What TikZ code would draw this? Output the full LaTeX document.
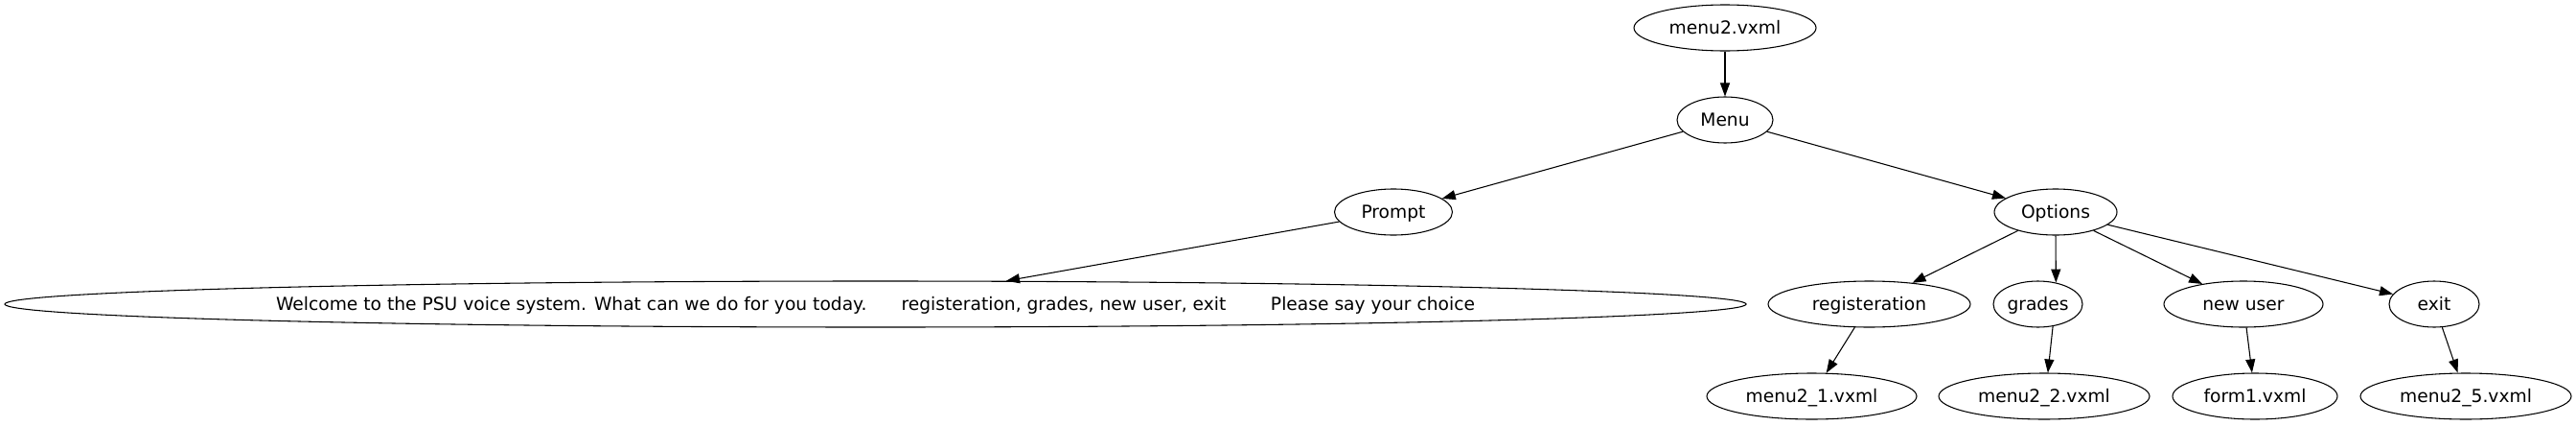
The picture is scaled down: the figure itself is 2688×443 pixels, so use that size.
\documentclass[tikz,border=0pt]{standalone}
\usepackage{fontspec}
\setmainfont{DejaVu Sans}
\usetikzlibrary{shapes.geometric,arrows.meta}
\begin{document}
\begin{tikzpicture}[x=0.75pt,y=-0.75pt,
  gnode/.style={draw,ellipse,inner sep=0pt,line width=0.8pt,minimum height=36pt,
    text height=10pt,text depth=1pt,font=\fontsize{14pt}{16pt}\selectfont},
  edge/.style={line width=0.8pt,-{Triangle[length=10.5pt,width=7.5pt]}}]
\useasboundingbox (0,0) rectangle (2688,443);
\node[gnode,minimum width=142.5pt] (m2) at (1800,29) {menu2.vxml};
\node[gnode,minimum width=75pt] (menu) at (1800,125) {Menu};
\node[gnode,minimum width=92.25pt] (prompt) at (1454,221) {Prompt};
\node[gnode,minimum width=96pt] (options) at (2145,221) {Options};
\node[gnode,minimum width=1362.75pt] (welcome) at (913.5,317) {Welcome to the PSU voice system. What can we do for you today.\hspace{27pt}registeration, grades, new user, exit\hspace{35pt}Please say your choice};
\node[gnode,minimum width=158.25pt] (reg) at (1950.5,317) {registeration};
\node[gnode,minimum width=69.75pt] (grades) at (2126.5,317) {grades};
\node[gnode,minimum width=124.5pt] (newuser) at (2341,317) {new user};
\node[gnode,minimum width=70.5pt] (exit) at (2540,317) {exit};
\node[gnode,minimum width=164.25pt] (m21) at (1890.5,413) {menu2\_1.vxml};
\node[gnode,minimum width=165pt] (m22) at (2133,413) {menu2\_2.vxml};
\node[gnode,minimum width=129pt] (form1) at (2353,413) {form1.vxml};
\node[gnode,minimum width=165pt] (m25) at (2573,413) {menu2\_5.vxml};
\draw[edge] (m2) -- (menu);
\draw[edge] (menu) -- (prompt);
\draw[edge] (menu) -- (options);
\draw[edge] (prompt) -- (welcome);
\draw[edge] (options) -- (reg);
\draw[edge] (options.south) -- (grades.50);
\draw[edge] (options) -- (newuser);
\draw[edge] (options) -- (exit);
\draw[edge] (reg) -- (m21);
\draw[edge] (grades.-56) -- (m22.81);
\draw[edge] (newuser) -- (form1);
\draw[edge] (exit) -- (m25);
\end{tikzpicture}
\end{document}
